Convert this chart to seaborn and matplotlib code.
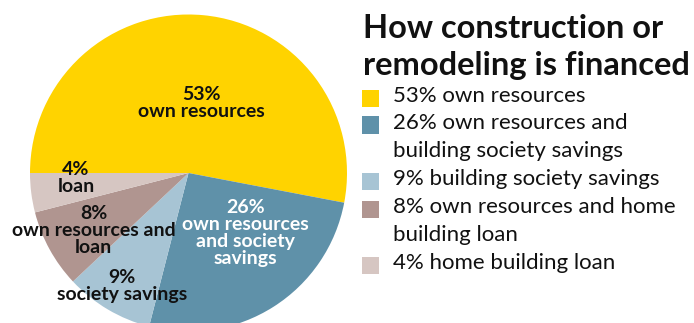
import matplotlib
matplotlib.use("Agg")
import matplotlib.pyplot as plt
from matplotlib.patches import Rectangle
import seaborn as sns

# Data
shares = [53, 26, 9, 8, 4]
slice_labels = [
    "53%\nown resources",
    "26%\nown resources\nand society\nsavings",
    "9%\nsociety savings",
    "8%\nown resources and\nloan",
    "4%\nloan",
]
legend_labels = [
    "53% own resources",
    "26% own resources and\nbuilding society savings",
    "9% building society savings",
    "8% own resources and home\nbuilding loan",
    "4% home building loan",
]
title = "How construction or\nremodeling is financed"

# Style
colors = ["#FFD300", "#5F91A9", "#A7C4D4", "#B09590", "#D6C6C2"]
label_colors = ["#111111", "#FFFFFF", "#111111", "#111111", "#111111"]
# label anchor points in pie axes units
label_pos = [(0.08, 0.44), (0.36, -0.38), (-0.42, -0.71), (-0.60, -0.36), (-0.71, -0.03)]

sns.set_theme(style="white")
plt.rcParams["font.family"] = ["Lato", "DejaVu Sans"]

W, H = 694, 323
fig = plt.figure(figsize=(W / 100, H / 100), dpi=100)
fig.patch.set_facecolor("white")

cx, cy, r = 188.5, 150, 158.5
ax = fig.add_axes([(cx - r) / W, (cy - r) / H, 2 * r / W, 2 * r / H])
ax.pie(shares, colors=colors, startangle=180, counterclock=False,
       wedgeprops=dict(linewidth=0))
ax.set_xlim(-1, 1)
ax.set_ylim(-1, 1)
ax.set_aspect("equal")
ax.axis("off")

for text, (x, y), c in zip(slice_labels, label_pos, label_colors):
    ax.text(x, y, text, ha="center", va="center", color=c,
            fontsize=14, fontweight="bold", linespacing=1.0)

# Title
fig.text(363 / W, 1 - 14 / H, title, ha="left", va="top", fontsize=23.5,
         fontweight="bold", color="#111111", linespacing=1.33)

# Legend
rows = [98, 125, 181, 209, 265]
for lab, col, yr in zip(legend_labels, colors, rows):
    fig.patches.append(Rectangle((362 / W, 1 - (yr + 8.5) / H), 17 / W, 17 / H,
                                 transform=fig.transFigure, facecolor=col,
                                 edgecolor="none"))
    fig.text(393 / W, 1 - (yr - 12) / H, lab, ha="left", va="top",
             fontsize=16, fontweight="normal", color="#111111", linespacing=1.53)

fig.savefig("out.png", dpi=100, facecolor="white")
